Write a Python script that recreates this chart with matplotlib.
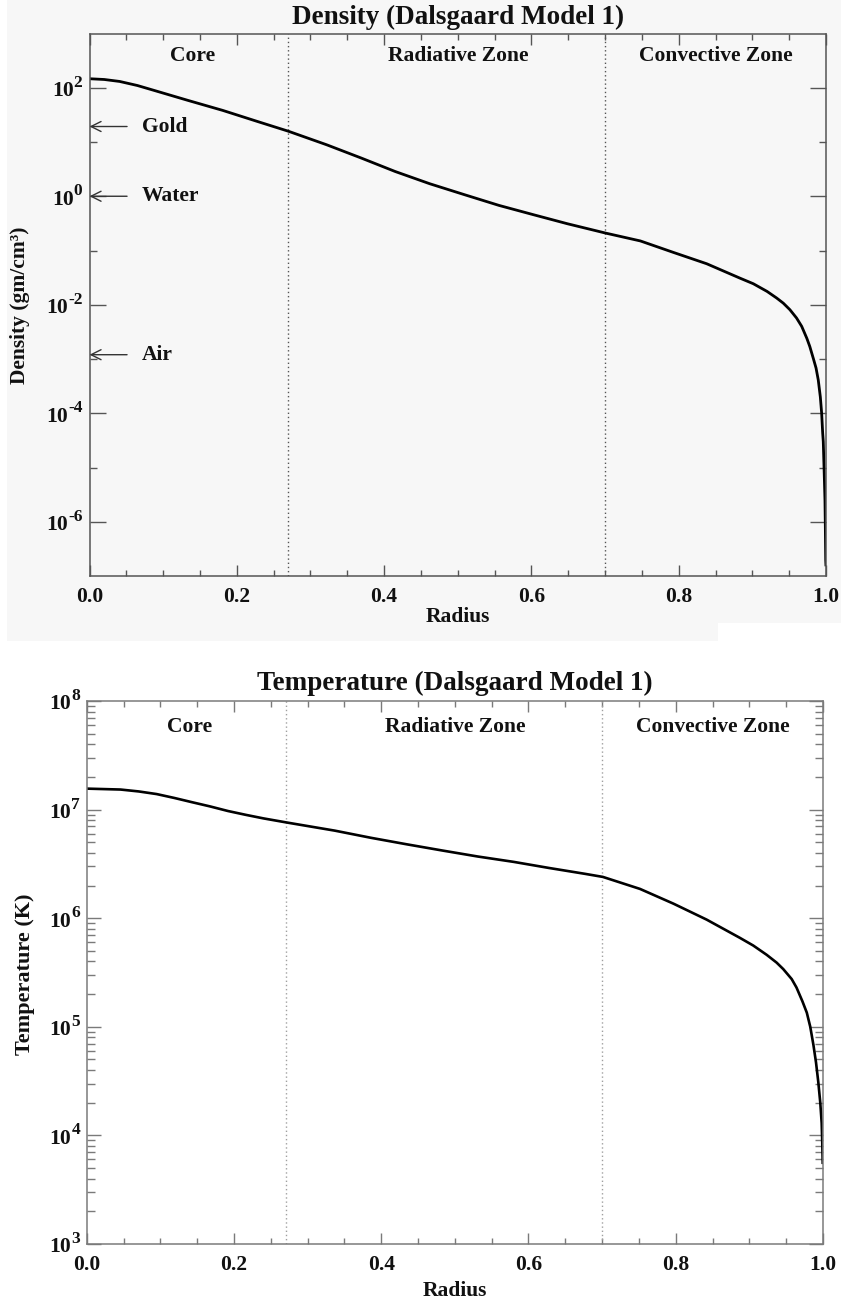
import numpy as np
import matplotlib
matplotlib.use("Agg")
import matplotlib.pyplot as plt
import matplotlib.transforms as mtransforms
from matplotlib import ticker
from matplotlib.patches import Polygon

# --- data -------------------------------------------------------------------
# density profile: fractional radius vs g/cm^3
RHO_RADIUS = [0.000, 0.020, 0.041, 0.065, 0.088, 0.134, 0.181, 0.228, 0.270,
              0.322, 0.369, 0.415, 0.462, 0.509, 0.556, 0.603, 0.649, 0.701,
              0.748, 0.793, 0.838, 0.883, 0.9013, 0.920, 0.933, 0.942, 0.951,
              0.960, 0.967, 0.974, 0.978, 0.983, 0.9865, 0.9895, 0.9923,
              0.9941, 0.9955, 0.9963, 0.9977, 0.9986, 0.9991, 0.9996, 0.9999]
RHO_VALUES = [146.6, 142.0, 130.6, 110.0, 89.1, 58.3, 38.2, 23.9, 15.8,
              8.89, 5.06, 2.86, 1.70, 1.07, 0.678, 0.456, 0.311, 0.209,
              0.150, 0.092, 0.057, 0.031, 0.0244, 0.0176, 0.0133, 0.0107, 8.1e-3,
              5.7e-3, 4.0e-3, 2.4e-3, 1.70e-3, 1.0e-3, 6.8e-4, 4.1e-4, 2.0e-4,
              1.0e-4, 4.3e-5, 3.0e-5, 6.8e-6, 2.5e-6, 8.1e-7, 2.0e-7, 1.6e-7]

# temperature profile: fractional radius vs K
T_RADIUS = [0.000, 0.046, 0.0705, 0.095, 0.119, 0.143, 0.1675, 0.192, 0.216,
            0.240, 0.272, 0.337, 0.386, 0.434, 0.483, 0.531, 0.580, 0.628,
            0.677, 0.701, 0.7515, 0.797, 0.842, 0.887, 0.9053, 0.9235, 0.937,
            0.946, 0.9575, 0.964, 0.972, 0.978, 0.9827, 0.987, 0.9905, 0.9936,
            0.9963, 0.9982, 0.999, 0.9996]
T_VALUES = [1.56e7, 1.53e7, 1.47e7, 1.39e7, 1.28e7, 1.17e7, 1.07e7, 9.7e6, 8.95e6,
            8.3e6, 7.6e6, 6.4e6, 5.5e6, 4.8e6, 4.2e6, 3.7e6, 3.3e6, 2.9e6,
            2.56e6, 2.40e6, 1.86e6, 1.36e6, 9.7e5, 6.6e5, 5.6e5, 4.6e5, 3.9e5,
            3.4e5, 2.75e5, 2.3e5, 1.72e5, 1.35e5, 1.0e5, 6.8e4, 4.7e4, 3.1e4,
            2.0e4, 1.3e4, 8.6e3, 5.6e3]

ZONE_NAMES = ["Core", "Radiative Zone", "Convective Zone"]
ZONE_CENTERS = [0.14, 0.50, 0.85]
ZONE_EDGES = [0.27, 0.70]

REF_NAMES = ["Gold", "Water", "Air"]
REF_DENSITY = [19.3, 1.0, 1.2e-3]

X_MAJOR = [0.0, 0.2, 0.4, 0.6, 0.8, 1.0]
RHO_MAJOR = [1e-6, 1e-4, 1e-2, 1e0, 1e2]
RHO_MINOR = [1e-5, 1e-3, 1e-1, 1e1]
T_MAJOR = [1e3, 1e4, 1e5, 1e6, 1e7, 1e8]

# --- style ------------------------------------------------------------------
plt.rcParams["font.family"] = ["Liberation Serif", "DejaVu Serif"]
plt.rcParams["font.weight"] = "bold"

W, H = 841, 1304
PANEL_BG = "#f7f7f7"
TEXT = "#111111"

fig = plt.figure(figsize=(W / 100, H / 100), dpi=100)
fig.patch.set_facecolor("white")


def fx(px):
    return px / W


def fy(py):
    return 1 - py / H


# light grey backing behind the density panel
fig.add_artist(Polygon(
    [(fx(7), fy(0)), (1, fy(0)), (1, fy(623)), (fx(718), fy(623)),
     (fx(718), fy(641)), (fx(7), fy(641))],
    closed=True, transform=fig.transFigure, facecolor=PANEL_BG,
    edgecolor="none", zorder=0))

ax1 = fig.add_axes([fx(89.5), fy(576), 736.5 / W, 542.5 / H])
ax2 = fig.add_axes([fx(86.7), fy(1244), 736.3 / W, 543 / H])


def style_axes(ax, edge, ylen, ymlen):
    ax.set_facecolor("none")
    ax.set_xlim(0, 1)
    ax.set_yscale("log")
    for s in ax.spines.values():
        s.set_color(edge)
        s.set_linewidth(1.1)
    ax.set_xticks(X_MAJOR)
    ax.xaxis.set_minor_locator(ticker.MultipleLocator(0.05))
    ax.xaxis.set_major_formatter(ticker.FormatStrFormatter("%.1f"))
    ax.tick_params(axis="both", which="both", direction="in", top=True,
                   right=True, color=edge, width=1)
    ax.tick_params(axis="x", which="major", length=8, pad=8, labelsize=15.5,
                   labelcolor=TEXT)
    ax.tick_params(axis="x", which="minor", length=4.3)
    ax.tick_params(axis="y", which="major", length=ylen)
    ax.tick_params(axis="y", which="minor", length=ymlen)
    ax.yaxis.set_major_formatter(ticker.NullFormatter())
    ax.yaxis.set_minor_formatter(ticker.NullFormatter())


def power_labels(ax, values, gap_px):
    # "10" with a raised exponent, right edge gap_px left of the axis
    trans = mtransforms.blended_transform_factory(ax.transAxes, ax.transData)
    shift = mtransforms.ScaledTranslation(-gap_px / 100, 1 / 100,
                                          fig.dpi_scale_trans)
    for v in values:
        exp = ax.text(0, v, str(int(round(np.log10(v)))),
                      transform=trans + shift, ha="right", va="baseline",
                      fontsize=12.5, fontweight="bold", color=TEXT,
                      clip_on=False)
        ax.annotate("10", xy=(0, 0), xycoords=exp, xytext=(0, -3.9),
                    textcoords="offset points", ha="right", va="baseline",
                    fontsize=15.6, fontweight="bold", color=TEXT,
                    annotation_clip=False)


def draw_zones(ax, color, ypos):
    trans = mtransforms.blended_transform_factory(ax.transData, ax.transAxes)
    for edge in ZONE_EDGES:
        ax.axvline(edge, color=color, linestyle=(0, (1, 2)), linewidth=1)
    for name, c in zip(ZONE_NAMES, ZONE_CENTERS):
        ax.text(c, ypos, name, transform=trans, ha="center", va="center",
                fontsize=15.5, fontweight="bold", color=TEXT)


# --- density ----------------------------------------------------------------
style_axes(ax1, "#555555", 11.5, 5)
ax1.set_ylim(1e-7, 1e3)
ax1.set_yticks(RHO_MAJOR)
ax1.set_yticks(RHO_MINOR, minor=True)
ax1.yaxis.set_major_formatter(ticker.NullFormatter())
ax1.yaxis.set_minor_formatter(ticker.NullFormatter())
power_labels(ax1, RHO_MAJOR, 7)
draw_zones(ax1, "#555555", 0.958)
ax1.plot(RHO_RADIUS, RHO_VALUES, color="black", linewidth=2)

for name, rho in zip(REF_NAMES, REF_DENSITY):
    ax1.annotate("", xy=(0, rho), xytext=(0.051, rho),
                 arrowprops=dict(arrowstyle="->", color="#333333", lw=1,
                                 mutation_scale=18, shrinkA=0, shrinkB=0))
    ax1.text(0.071, rho, name, ha="left", va="center", fontsize=15.5,
             fontweight="bold", color=TEXT)

ax1.set_title("Density (Dalsgaard Model 1)", fontsize=19.5,
              fontweight="bold", pad=7, color=TEXT)
ax1.set_xlabel("Radius", fontsize=15.5, fontweight="bold", labelpad=0,
               color=TEXT)
fig.text(fx(20), fy(305), "Density (gm/cm\u00b3)", rotation=90, ha="center",
         va="center", fontsize=15.5, fontweight="bold", color=TEXT)

# --- temperature ------------------------------------------------------------
style_axes(ax2, "#7a7a7a", 10, 5.8)
ax2.set_ylim(1e3, 1e8)
ax2.set_yticks(T_MAJOR)
ax2.yaxis.set_minor_locator(ticker.LogLocator(base=10, subs=np.arange(2, 10)))
ax2.yaxis.set_major_formatter(ticker.NullFormatter())
ax2.yaxis.set_minor_formatter(ticker.NullFormatter())
power_labels(ax2, T_MAJOR, 6.7)
draw_zones(ax2, "#a0a0a0", 0.952)
ax2.plot(T_RADIUS, T_VALUES, color="black", linewidth=1.9)

ax2.set_title("Temperature (Dalsgaard Model 1)", fontsize=19.5,
              fontweight="bold", pad=8, color=TEXT)
ax2.set_xlabel("Radius", fontsize=15.5, fontweight="bold", labelpad=4,
               color=TEXT)
fig.text(fx(25), fy(974), "Temperature (K)", rotation=90, ha="center",
         va="center", fontsize=16, fontweight="bold", color=TEXT)

fig.savefig("out.png", dpi=100, facecolor=fig.get_facecolor())
